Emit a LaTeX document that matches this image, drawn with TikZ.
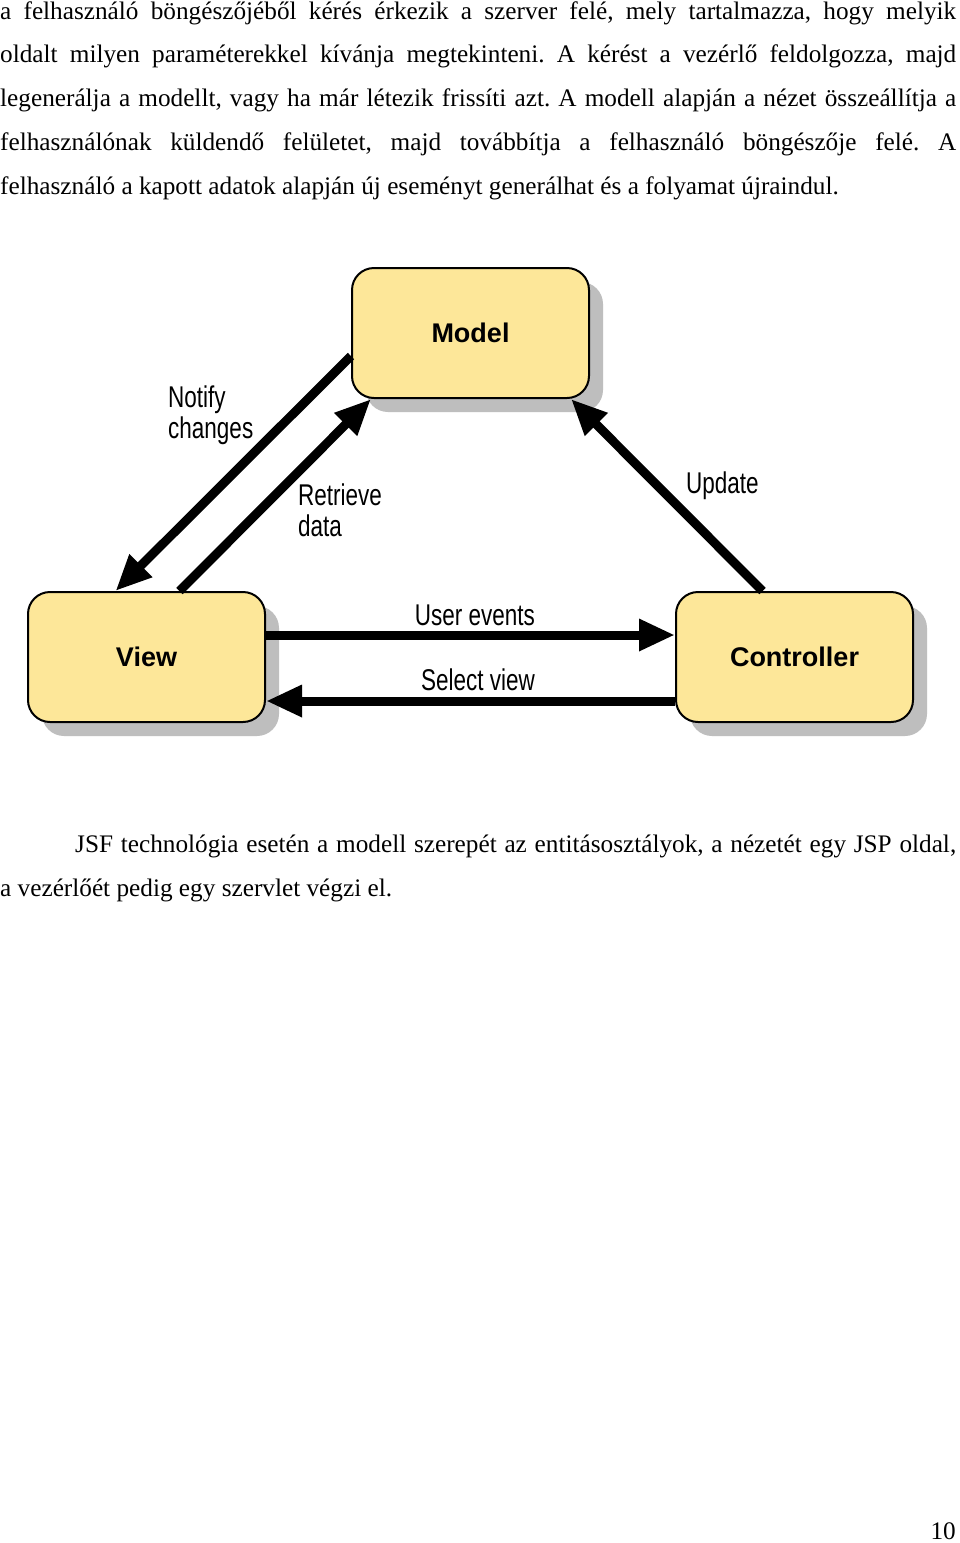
\documentclass[tikz,border=0pt]{standalone}
\usepackage{fontspec}
\setmainfont{Liberation Serif}
\newfontfamily\diagfont{Liberation Sans}
\newfontfamily\narrowfont[FakeStretch=0.75]{Liberation Sans}
\usetikzlibrary{arrows.meta,shadows}
\definecolor{boxfill}{RGB}{253,231,153}
\definecolor{shadowgray}{RGB}{190,190,190}
\frenchspacing
\begin{document}
\begin{tikzpicture}[x=1pt,y=-1pt,
  bodytext/.style={anchor=base west, inner sep=0pt, font=\frenchspacing\fontsize{25.25}{44}\selectfont},
  mvcbox/.style={draw=black, line width=2pt, fill=boxfill, rounded corners=22pt,
    minimum width=237pt, minimum height=130pt, inner sep=0pt,
    font=\diagfont\bfseries\fontsize{27}{30}\selectfont,
    drop shadow={shadow xshift=14pt, shadow yshift=-14pt, fill=shadowgray, opacity=1}},
  flow/.style={line width=9pt, -{Triangle[length=36pt,width=30pt]}},
  lbl/.style={inner sep=0pt, font=\narrowfont\fontsize{30}{31}\selectfont, align=left}
]
\useasboundingbox (0,0) rectangle (960,1543);
\fill[white] (0,0) rectangle (960,1543);

% paragraph text
\node[bodytext] (l1) at (0,19) {\makebox[956pt][s]{a felhasználó böngészőjéből kérés érkezik a szerver felé, mely tartalmazza, hogy melyik}};
\node[bodytext] (l2) at (0,62.75) {\makebox[956pt][s]{oldalt milyen paraméterekkel kívánja megtekinteni. A kérést a vezérlő feldolgozza, majd}};
\node[bodytext] (l3) at (0,106.5) {\makebox[956pt][s]{legenerálja a modellt, vagy ha már létezik frissíti azt. A modell alapján a nézet összeállítja a}};
\node[bodytext] (l4) at (0,150.25) {\makebox[956pt][s]{felhasználónak küldendő felületet, majd továbbítja a felhasználó böngészője felé. A}};
\node[bodytext] (l5) at (0,194) {felhasználó a kapott adatok alapján új eseményt generálhat és a folyamat újraindul.};

% boxes
\node[mvcbox] (model) at (470.5,333) {Model};
\node[mvcbox] (view) at (146.5,657) {View};
\node[mvcbox] (controller) at (794.5,657) {Controller};

% arrows
\draw[flow] ([yshift=-23pt]model.west) -- ([xshift=-31pt]view.north);
\draw[flow] ([xshift=33pt]view.north) -- ([xshift=20pt]model.south west);
\draw[flow] ([xshift=-32pt]controller.north) -- ([xshift=-19pt]model.south east);
\draw[flow] ([yshift=22pt]view.east) -- ([yshift=22pt]controller.west);
\draw[flow] ([yshift=-44pt]controller.west) -- ([yshift=-44pt]view.east);

% labels
\node[lbl, anchor=north west] (notify) at (168,386) {Notify\\changes};
\node[lbl, anchor=north west] (retrieve) at (298,484) {Retrieve\\data};
\node[lbl, anchor=west] (update) at (686,486) {Update};
\node[lbl] (userev) at (475,615) {User events};
\node[lbl] (selview) at (478,680) {Select view};

% second paragraph
\node[bodytext] (p1) at (75,852) {\makebox[881pt][s]{JSF technológia esetén a modell szerepét az entitásosztályok, a nézetét egy JSP oldal,}};
\node[bodytext] (p2) at (0,896) {a vezérlőét pedig egy szervlet végzi el.};

% page number
\node[bodytext, anchor=base east] (pagenum) at (956,1539) {10};
\end{tikzpicture}
\end{document}
